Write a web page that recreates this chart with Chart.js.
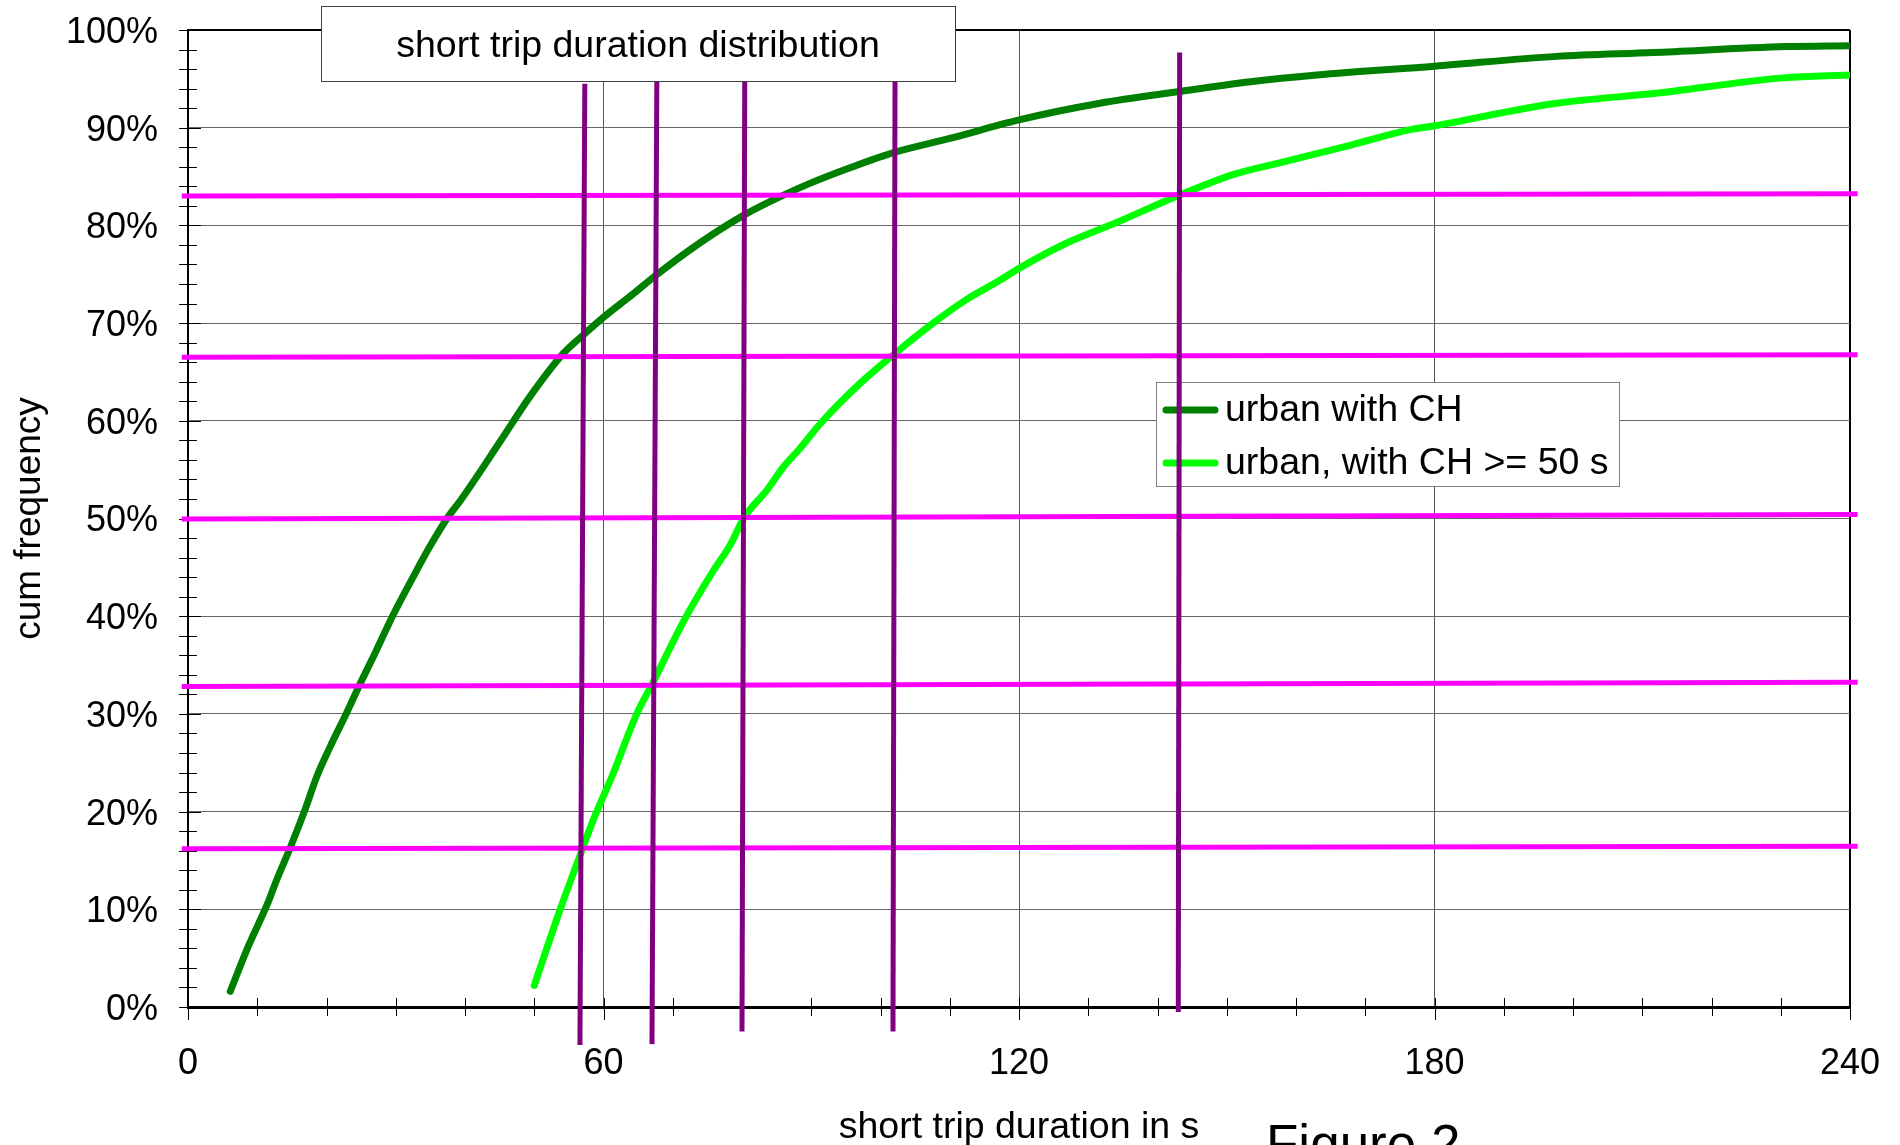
<!DOCTYPE html>
<html>
<head>
<meta charset="utf-8">
<script src="https://cdn.jsdelivr.net/npm/chart.js@4.4.0/dist/chart.umd.min.js"></script>
<style>
  html, body { margin: 0; padding: 0; background: #fff; }
  canvas { display: block; }
</style>
</head>
<body>
<canvas id="tripChart" width="1900" height="1145"></canvas>
<script>
const FONT = "'Liberation Sans', Arial, sans-serif";

// cumulative share of trips (%) over short trip duration (s)
const urbanDur = [6.1, 8.7, 11.5, 12.8, 14.7, 16.9, 18.6, 20.5, 22.9, 24.8, 27.2, 29.6, 32.5, 34.9, 37.4,
  39.5, 45.1, 49.4, 54.2, 57.1, 60.0, 64.3, 67.4, 73.9, 80.4, 86.0, 89.8, 95.6, 102.1, 110.0, 120.0,
  131.7, 143.2, 153.4, 163.0, 180.0, 197.6, 211.6, 230.8, 240];
const urbanCum = [1.6, 6.2, 10.6, 13.0, 16.2, 20.2, 23.6, 26.6, 30.1, 33.0, 36.5, 40.1, 44.0, 47.1, 50.0,
  52.0, 57.9, 62.5, 66.9, 68.8, 70.6, 73.0, 74.8, 78.2, 81.1, 83.1, 84.3, 85.9, 87.5, 88.9, 90.8,
  92.5, 93.7, 94.7, 95.4, 96.3, 97.3, 97.7, 98.3, 98.4];

const urban50Dur = [50.0, 53.7, 56.5, 58.5, 61.4, 64.8, 67.2, 71.5, 75.9, 78.3, 80.3, 83.6, 86.0, 88.4,
  91.3, 97.0, 102.1, 107.6, 112.4, 117.3, 120.0, 126.9, 134.1, 143.2, 150.9, 158.2, 167.8, 176.5,
  180.0, 197.6, 211.6, 230.4, 240];
const urban50Cum = [2.2, 9.9, 15.3, 19.1, 23.9, 30.0, 33.3, 39.4, 44.7, 47.3, 50.1, 52.9, 55.3, 57.2,
  59.7, 63.8, 66.9, 70.0, 72.4, 74.4, 75.6, 78.2, 80.3, 83.1, 85.2, 86.5, 88.2, 89.8,
  90.2, 92.5, 93.5, 95.1, 95.4];

// horizontal reference levels (%), value at left and right end
const levelLeft = [83.0, 66.5, 49.95, 32.8, 16.2];
const levelRight = [83.25, 66.75, 50.4, 33.25, 16.45];
const levelFrom = -0.9;
const levelTo = 241.1;

// vertical duration markers (s), top end and bottom end
const markTopX = [57.3, 67.7, 80.4, 102.1, 143.2];
const markTopY = [94.5, 94.7, 96.0, 96.0, 97.7];
const markBotX = [56.6, 67.0, 80.0, 101.8, 143.0];
const markBotY = [-3.9, -3.8, -2.5, -2.5, -0.5];

const xTicks = [0, 60, 120, 180, 240];
const yTicks = [0, 10, 20, 30, 40, 50, 60, 70, 80, 90, 100];

const chartTitle = 'short trip duration distribution';
const xTitle = 'short trip duration in s';
const yTitle = 'cum frequency';
const figureLabel = 'Figure 2';

const pts = (xs, ys) => xs.map((x, i) => ({ x: x, y: ys[i] }));

const datasets = [
  { label: 'urban with CH', data: pts(urbanDur, urbanCum), borderColor: '#008000', order: 3 },
  { label: 'urban, with CH >= 50 s', data: pts(urban50Dur, urban50Cum), borderColor: '#00ff00', order: 3 }
].map(d => Object.assign(d, {
  borderWidth: 7, borderCapStyle: 'round', borderJoinStyle: 'round',
  cubicInterpolationMode: 'monotone', inLegend: true
}));

levelLeft.forEach((y, i) => {
  datasets.push({
    data: [{ x: levelFrom, y: y }, { x: levelTo, y: levelRight[i] }],
    borderColor: '#ff00ff', borderWidth: 5, order: 2, clip: false
  });
});

markTopX.forEach((x, i) => {
  datasets.push({
    data: [{ x: x, y: markTopY[i] }, { x: markBotX[i], y: markBotY[i] }],
    borderColor: '#800080', borderWidth: 5, order: 1, clip: false
  });
});

// no extra room for overhanging tick labels, layout padding decides the plot box
const noOverhang = s => {
  s.paddingTop = 0; s.paddingBottom = 0; s.paddingLeft = 0; s.paddingRight = 0;
};

// minor ticks crossing both axes, plus the boxed legend under the data lines
const axisDecor = {
  id: 'axisDecor',
  beforeDatasetsDraw(chart) {
    const { ctx, chartArea: a, scales: { x, y } } = chart;
    ctx.save();
    ctx.strokeStyle = '#000';
    ctx.lineWidth = 1;
    ctx.beginPath();
    for (let v = 0; v <= 100; v += 2) {
      const py = Math.round(y.getPixelForValue(v)) + 0.5;
      ctx.moveTo(a.left - 9, py);
      ctx.lineTo(a.left + (v % 10 === 0 ? 13 : 9), py);
    }
    for (let v = 0; v <= 240; v += 10) {
      const px = Math.round(x.getPixelForValue(v)) + 0.5;
      ctx.moveTo(px, a.bottom - 9);
      ctx.lineTo(px, a.bottom + (v % 60 === 0 ? 13 : 9));
    }
    ctx.stroke();

    // legend
    const lx = 1156, ly = 382, lw = 463, lh = 104;
    ctx.fillStyle = '#fff';
    ctx.fillRect(lx, ly, lw, lh);
    ctx.strokeStyle = '#808080';
    ctx.strokeRect(lx + 0.5, ly + 0.5, lw, lh);
    ctx.font = '37.5px ' + FONT;
    ctx.textBaseline = 'middle';
    ctx.textAlign = 'left';
    chart.data.datasets.filter(d => d.inLegend).forEach((d, i) => {
      const cy = ly + 28 + i * 53;
      ctx.strokeStyle = d.borderColor;
      ctx.lineWidth = 7;
      ctx.lineCap = 'round';
      ctx.beginPath();
      ctx.moveTo(lx + 10, cy);
      ctx.lineTo(lx + 59, cy);
      ctx.stroke();
      ctx.fillStyle = '#000';
      ctx.fillText(d.label, lx + 69, cy + 1);
    });
    ctx.restore();
  },
  afterDatasetsDraw(chart) {
    const { ctx, chartArea: a } = chart;
    ctx.save();
    // title box sits over the top edge of the plot
    ctx.fillStyle = '#fff';
    ctx.fillRect(321, 6, 634, 75);
    ctx.strokeStyle = '#404040';
    ctx.lineWidth = 1;
    ctx.strokeRect(321.5, 6.5, 634, 75);
    ctx.fillStyle = '#000';
    ctx.font = '37.5px ' + FONT;
    ctx.textAlign = 'center';
    ctx.textBaseline = 'middle';
    ctx.fillText(chartTitle, 638, 47);

    // axis titles
    ctx.fillText(xTitle, (a.left + a.right) / 2, 1128);
    ctx.save();
    ctx.font = '37px ' + FONT;
    ctx.translate(30, (a.top + a.bottom) / 2);
    ctx.rotate(-Math.PI / 2);
    ctx.fillText(yTitle, 0, 0);
    ctx.restore();

    ctx.font = '53px ' + FONT;
    ctx.textAlign = 'left';
    ctx.textBaseline = 'alphabetic';
    ctx.fillText(figureLabel, 1266, 1162);
    ctx.restore();
  }
};

new Chart(document.getElementById('tripChart'), {
  type: 'line',
  data: { datasets: datasets },
  options: {
    responsive: false,
    animation: false,
    devicePixelRatio: 1,
    layout: { padding: { left: 0, right: 50, top: 30, bottom: 0 } },
    elements: { point: { radius: 0 }, line: { fill: false } },
    plugins: { legend: { display: false }, tooltip: { enabled: false } },
    scales: {
      x: {
        type: 'linear', min: 0, max: 240,
        afterBuildTicks: s => { s.ticks = xTicks.map(v => ({ value: v })); },
        afterFit: s => { s.height = 138; noOverhang(s); },
        ticks: { color: '#000', font: { size: 36, family: FONT }, padding: 35, maxRotation: 0 },
        grid: {
          drawTicks: false,
          color: c => c.tick && c.tick.value === 240 ? '#000' : '#555',
          lineWidth: c => c.tick && c.tick.value === 240 ? 2 : 1
        },
        border: { color: '#000', width: 3 }
      },
      y: {
        min: 0, max: 100,
        afterBuildTicks: s => { s.ticks = yTicks.map(v => ({ value: v })); },
        afterFit: s => { s.width = 188; noOverhang(s); },
        ticks: {
          color: '#000', font: { size: 36, family: FONT }, padding: 30, labelOffset: 3,
          callback: v => v + '%'
        },
        grid: {
          drawTicks: false,
          color: c => c.tick && c.tick.value === 100 ? '#000' : '#666',
          lineWidth: c => c.tick && c.tick.value === 100 ? 2 : 1
        },
        border: { color: '#000', width: 2 }
      }
    }
  },
  plugins: [axisDecor]
});
</script>
</body>
</html>
